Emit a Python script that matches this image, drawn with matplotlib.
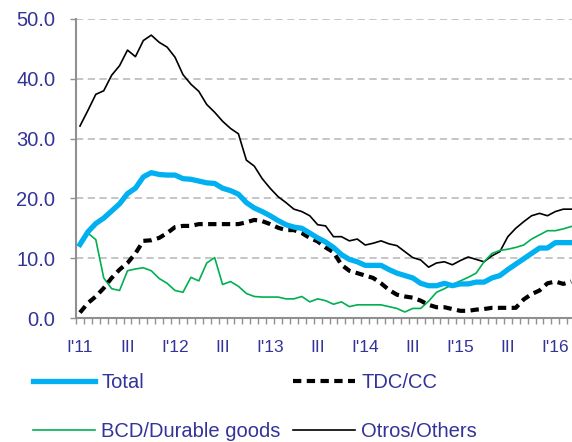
import matplotlib
matplotlib.use("Agg")
import matplotlib.pyplot as plt
import numpy as np

plt.rcParams['font.family'] = ['Liberation Sans', 'DejaVu Sans']

tick_labels = ["I'11", "III", "I'12", "III", "I'13", "III", "I'14", "III", "I'15", "III", "I'16"]

total = [12.3, 14.4, 15.8, 16.7, 17.9, 19.1, 20.8, 21.7, 23.6, 24.3, 24.0, 23.9, 23.9, 23.3, 23.2, 22.9,
         22.6, 22.5, 21.7, 21.3, 20.7, 19.3, 18.4, 17.8, 17.1, 16.3, 15.6, 15.2, 15.0, 14.2, 13.4, 12.7,
         11.8, 10.6, 9.8, 9.4, 8.8, 8.8, 8.8, 8.1, 7.5, 7.1, 6.7, 5.8, 5.4, 5.4, 5.8, 5.4,
         5.7, 5.7, 6.0, 6.0, 6.7, 7.1, 8.1, 9.0, 9.9, 10.8, 11.7, 11.7, 12.6, 12.6, 12.6]
tdc = [0.9, 2.5, 3.6, 5.0, 6.7, 8.1, 9.2, 10.8, 12.9, 13.0, 13.4, 14.2, 15.2, 15.4, 15.4, 15.7,
       15.7, 15.7, 15.7, 15.7, 15.7, 16.0, 16.4, 16.2, 15.7, 15.1, 14.7, 14.7, 14.2, 13.4, 12.8, 11.8,
       11.0, 8.9, 7.9, 7.5, 7.1, 6.7, 5.8, 4.7, 3.9, 3.6, 3.4, 2.9, 2.2, 1.8, 1.8, 1.5,
       1.2, 1.2, 1.4, 1.5, 1.7, 1.7, 1.7, 1.7, 3.1, 4.0, 4.6, 5.8, 6.1, 5.7, 6.1]
bcd = [12.3, 14.2, 13.1, 6.7, 4.9, 4.6, 7.9, 8.2, 8.4, 7.9, 6.6, 5.8, 4.6, 4.3, 6.8, 6.2,
       9.2, 10.1, 5.6, 6.1, 5.3, 4.1, 3.6, 3.5, 3.5, 3.5, 3.2, 3.2, 3.6, 2.7, 3.2, 2.9,
       2.3, 2.7, 1.9, 2.2, 2.2, 2.2, 2.2, 1.9, 1.6, 1.0, 1.6, 1.6, 2.8, 4.3, 4.9, 5.6,
       6.2, 6.8, 7.5, 9.4, 10.8, 11.3, 11.5, 11.8, 12.2, 13.2, 13.9, 14.6, 14.6, 14.9, 15.3]
otros = [32.1, 34.7, 37.4, 38.0, 40.6, 42.2, 44.8, 43.7, 46.4, 47.3, 46.1, 45.3, 43.6, 40.7, 39.1, 37.9,
         35.7, 34.4, 32.9, 31.7, 30.8, 26.4, 25.4, 23.3, 21.7, 20.3, 19.3, 18.2, 17.8, 17.1, 15.6, 15.4,
         13.6, 13.6, 12.9, 13.2, 12.2, 12.5, 12.9, 12.4, 12.1, 11.1, 10.1, 9.7, 8.5, 9.2, 9.4, 8.9,
         9.6, 10.2, 9.8, 9.4, 10.4, 11.1, 13.6, 15.0, 16.1, 17.1, 17.5, 17.1, 17.8, 18.2, 18.2]

label_color = '#333399'
W, H = 572, 442
fig = plt.figure(figsize=(W / 100, H / 100), dpi=100)
ax = fig.add_axes([76 / W, 1 - 318 / H, 1 - 76 / W, (318 - 19) / H])

x = np.arange(len(total))
ax.plot(x, otros, color='black', lw=1.2, label='Otros/Others', zorder=3)
ax.plot(x, bcd, color='#00B050', lw=1.2, label='BCD/Durable goods', zorder=3)
ax.plot(x, tdc, color='black', lw=3.0, dashes=(2.0, 1.3), label='TDC/CC', zorder=4)
ax.plot(x, total, color='#00B0F0', lw=3.8, label='Total', zorder=5, solid_joinstyle='round')

ax.set_ylim(0, 50)
ax.set_xlim(-0.5, 62.1)
ax.set_yticks(np.arange(0, 51, 10))
ax.set_yticklabels([f"{v:.1f}" for v in np.arange(0, 51, 10)])
ax.yaxis.grid(True, color='#C0C0C0', linestyle=(0, (4, 2.5)), lw=1.3)
ax.set_axisbelow(True)

ax.set_xticks(np.arange(0, 6 * len(tick_labels), 6))
ax.set_xticklabels(tick_labels)
ax.set_xticks(np.arange(-0.5, 62.1, 1), minor=True)
ax.tick_params(axis='x', which='major', length=0, pad=16, labelsize=12.5, labelcolor=label_color)
ax.tick_params(axis='x', which='minor', length=4, width=1, color='#909090', direction='out')
ax.tick_params(axis='y', which='major', length=4, width=1, color='#909090', pad=11,
               labelsize=14.5, labelcolor=label_color)

for s in ['top', 'right']:
    ax.spines[s].set_visible(False)
for s in ['left', 'bottom']:
    ax.spines[s].set_color('#909090')
    ax.spines[s].set_linewidth(1.5)

h = {l.get_label(): l for l in ax.get_lines()}
common = dict(frameon=False, fontsize=14.5, handlelength=3.1, handletextpad=0.3,
              labelspacing=1.5, borderpad=0, borderaxespad=0, loc='upper left',
              labelcolor=label_color)
leg1 = fig.legend([h['Total'], h['BCD/Durable goods']], ['Total', 'BCD/Durable goods'],
                  bbox_to_anchor=(33 / W, 1 - 373 / H), **common)
leg2 = fig.legend([h['TDC/CC'], h['Otros/Others']], ['TDC/CC', 'Otros/Others'],
                  bbox_to_anchor=(293 / W, 1 - 373 / H), **common)

fig.savefig('out.png', dpi=100)
